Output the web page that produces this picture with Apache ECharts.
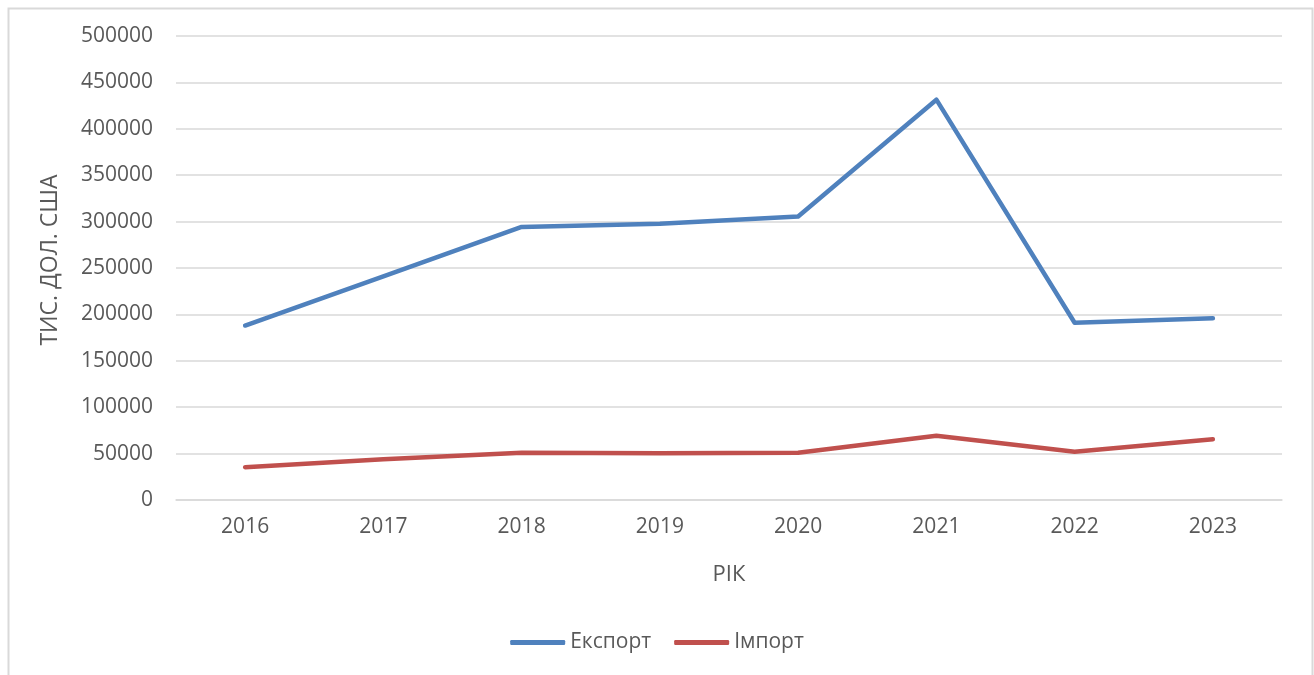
<!DOCTYPE html>
<html>
<head>
<meta charset="utf-8">
<script src="https://cdn.jsdelivr.net/npm/echarts@6/dist/echarts.min.js"></script>
<style>
  html, body { margin: 0; padding: 0; background: #fff; }
  #chart { width: 1314px; height: 675px; }
</style>
</head>
<body>
<div id="chart"></div>
<script>
// дані
const years = ['2016', '2017', '2018', '2019', '2020', '2021', '2022', '2023'];
const exportValues = [188000, 241000, 294300, 297800, 305500, 431400, 191000, 195800];
const importValues = [35300, 44000, 50800, 50300, 51000, 69300, 52000, 65400];
const seriesNames = ['Експорт', 'Імпорт'];
const colors = ['#4f81bd', '#c0504d'];

const textColor = '#595959';
const font = '"Open Sans", "Noto Sans", sans-serif';

const chart = echarts.init(document.getElementById('chart'));

chart.setOption({
  animation: false,
  backgroundColor: '#fff',
  textStyle: { fontFamily: font, color: textColor },
  graphic: [{
    type: 'rect',
    left: 6, top: 6,
    shape: { width: 1304, height: 700 },
    style: { fill: 'none', stroke: '#d9d9d9', lineWidth: 2 },
    silent: true
  }],
  grid: {
    left: 176,
    right: 32,
    top: 36,
    bottom: 175,
    containLabel: false
  },
  legend: {
    bottom: 17,
    left: 'center',
    icon: 'roundRect',
    itemWidth: 55,
    itemHeight: 5,
    itemGap: 23,
    textStyle: { fontFamily: font, fontSize: 21, color: textColor },
    data: seriesNames
  },
  xAxis: {
    type: 'category',
    data: years,
    boundaryGap: true,
    name: 'РІК',
    nameLocation: 'middle',
    nameGap: 64,
    nameTextStyle: { fontFamily: font, fontSize: 22, color: textColor },
    axisLine: { show: true, lineStyle: { color: '#d9d9d9', width: 1.5 } },
    axisTick: { show: false },
    axisLabel: { fontFamily: font, fontSize: 21, color: textColor, margin: 17 }
  },
  yAxis: {
    type: 'value',
    min: 0,
    max: 500000,
    interval: 50000,
    name: 'ТИС. ДОЛ. США',
    nameLocation: 'middle',
    nameGap: 114,
    nameTextStyle: { fontFamily: font, fontSize: 23, color: textColor, padding: [0, 0, 0, 16] },
    axisLine: { show: false },
    axisTick: { show: false },
    axisLabel: {
      fontFamily: font, fontSize: 21, color: textColor, margin: 23,
      formatter: v => String(v)
    },
    splitLine: { lineStyle: { color: '#d9d9d9', width: 1.5 } }
  },
  series: [
    {
      name: seriesNames[0],
      type: 'line',
      data: exportValues,
      symbol: 'none',
      lineStyle: { color: colors[0], width: 4.5, cap: 'round', join: 'round' },
      itemStyle: { color: colors[0] }
    },
    {
      name: seriesNames[1],
      type: 'line',
      data: importValues,
      symbol: 'none',
      lineStyle: { color: colors[1], width: 4.5, cap: 'round', join: 'round' },
      itemStyle: { color: colors[1] }
    }
  ]
});
</script>
</body>
</html>
